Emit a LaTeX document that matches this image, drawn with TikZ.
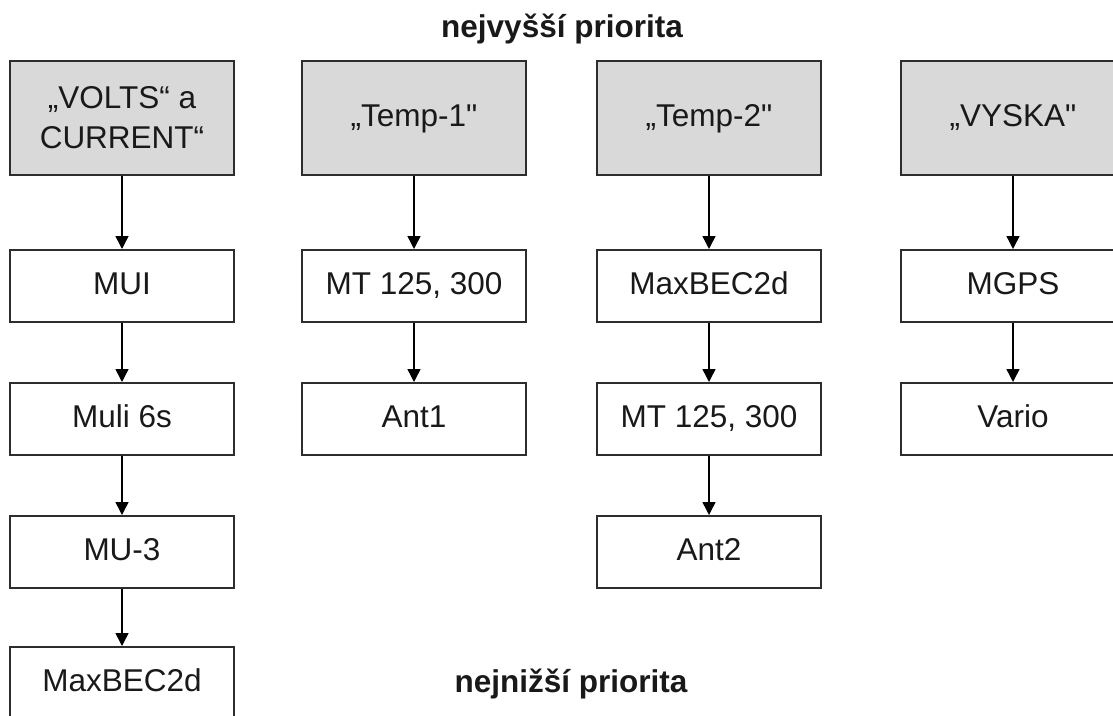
\documentclass[tikz,border=0pt]{standalone}
\usepackage{fontspec}
\newfontfamily\arialfont{Liberation Sans}
\usetikzlibrary{arrows.meta}
\definecolor{edgegray}{RGB}{45,45,45}
\definecolor{headfill}{RGB}{217,217,217}
\definecolor{textblack}{RGB}{25,25,25}
\tikzset{
  basebox/.style={draw=edgegray, line width=2pt, fill=white, minimum width=224pt, minimum height=72pt,
    inner sep=0pt, text=textblack, align=center,
    font=\arialfont\fontsize{31.5}{40}\selectfont},
  oneline/.style={text height=23pt, text depth=7pt},
  box/.style={basebox, oneline},
  headbox/.style={basebox, fill=headfill, minimum height=114pt},
  arr/.style={draw=black, line width=1.5pt, -{Triangle[length=13pt,width=13pt]}},
  prio/.style={text=textblack, font=\arialfont\bfseries\fontsize{31.5}{36}\selectfont, inner sep=0pt, anchor=base}
}
\begin{document}
\begin{tikzpicture}[x=1pt,y=-1pt]
\useasboundingbox (0,0) rectangle (1113,715);
\fill[white] (0,0) rectangle (1113,715);
\begin{scope}
\clip (0,0) rectangle (1113,715);
% headers
\node[headbox] (h1) at (122,118) {„VOLTS“ a\\CURRENT“};
\node[headbox, oneline] (h2) at (414,118) {„Temp-1"};
\node[headbox, oneline] (h3) at (709,118) {„Temp-2"};
\node[headbox, oneline] (h4) at (1013,118) {„VYSKA"};
% column 1
\node[box] (a1) at (122,286) {MUI};
\node[box] (a2) at (122,419) {Muli 6s};
\node[box] (a3) at (122,552) {MU-3};
\node[box] (a4) at (122,683) {MaxBEC2d};
% column 2
\node[box] (b1) at (414,286) {MT 125, 300};
\node[box] (b2) at (414,419) {Ant1};
% column 3
\node[box] (c1) at (709,286) {MaxBEC2d};
\node[box] (c2) at (709,419) {MT 125, 300};
\node[box] (c3) at (709,552) {Ant2};
% column 4
\node[box] (d1) at (1013,286) {MGPS};
\node[box] (d2) at (1013,419) {Vario};
% arrows
\draw[arr] (h1) -- (a1);
\draw[arr] (a1) -- (a2);
\draw[arr] (a2) -- (a3);
\draw[arr] (a3) -- (a4);
\draw[arr] (h2) -- (b1);
\draw[arr] (b1) -- (b2);
\draw[arr] (h3) -- (c1);
\draw[arr] (c1) -- (c2);
\draw[arr] (c2) -- (c3);
\draw[arr] (h4) -- (d1);
\draw[arr] (d1) -- (d2);
% priority labels
\node[prio] (top) at (562,37) {nejvyšší priorita};
\node[prio] (bottom) at (571,692) {nejnižší priorita};
\end{scope}
\end{tikzpicture}
\end{document}
